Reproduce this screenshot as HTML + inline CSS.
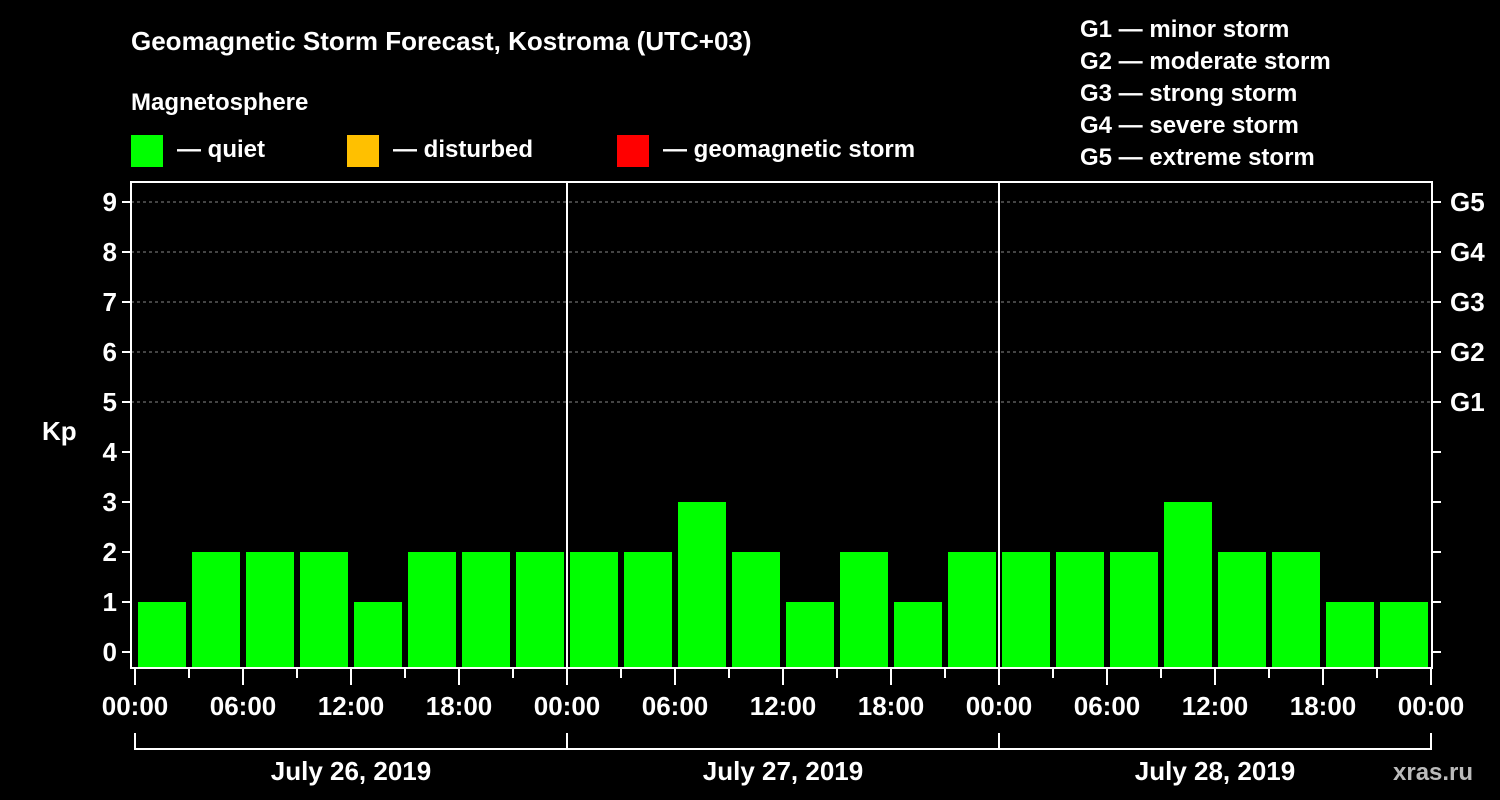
<!DOCTYPE html>
<html><head><meta charset="utf-8"><style>
body{margin:0;background:#000;width:1500px;height:800px;overflow:hidden}
svg{display:block;font-family:"Liberation Sans",Arial,sans-serif;font-weight:bold;fill:#fff}
</style></head><body>
<svg id="c" width="1500" height="800">
<text x="131" y="50" font-size="26">Geomagnetic Storm Forecast, Kostroma (UTC+03)</text>
<text x="131" y="110" font-size="24">Magnetosphere</text>
<rect x="131" y="135" width="32" height="32" fill="#00ff00"/>
<text x="177" y="157" font-size="24">— quiet</text>
<rect x="347" y="135" width="32" height="32" fill="#ffc000"/>
<text x="393" y="157" font-size="24">— disturbed</text>
<rect x="617" y="135" width="32" height="32" fill="#ff0000"/>
<text x="663" y="157" font-size="24">— geomagnetic storm</text>
<g font-size="24">
<text x="1080" y="37">G1 — minor storm</text>
<text x="1080" y="69">G2 — moderate storm</text>
<text x="1080" y="101">G3 — strong storm</text>
<text x="1080" y="133">G4 — severe storm</text>
<text x="1080" y="165">G5 — extreme storm</text>
</g>
<text x="42" y="440" font-size="26">Kp</text>
<text x="1393" y="780" font-size="24" fill="#bbb">xras.ru</text>
<g id="g"></g>
</svg>
<script>
const kpValues=[1,2,2,2,1,2,2,2, 2,2,3,2,1,2,1,2, 2,2,2,3,2,2,1,1];
const dayLabels=["July 26, 2019","July 27, 2019","July 28, 2019"];
const yTicks=[0,1,2,3,4,5,6,7,8,9];
const gLabels=["G1","G2","G3","G4","G5"];
const hourLabels=["00:00","06:00","12:00","18:00"];
const NS="http://www.w3.org/2000/svg";
const g=document.getElementById('g');
const X0=135,DAY=432,L=131,R=1432,T=182,B=668;
const x=h=>X0+h*DAY/24;
const y=v=>652-v*50;
function mk(t,a,p){const e=document.createElementNS(NS,t);for(const k in a)e.setAttribute(k,a[k]);(p||g).appendChild(e);return e;}
yTicks.forEach(v=>{
 if(v>=5){const l=mk('line',{x1:L,x2:R,y1:y(v),y2:y(v),stroke:'#888','stroke-dasharray':'3,3','stroke-width':1});
 
 }
});
kpValues.forEach((v,i)=>{
 const r=mk('rect',{x:x(i*3)+3,y:y(v),width:DAY/8-6,height:B-y(v),fill:'#00ff00'});
 
 
});
// axes frame
const f=mk('rect',{x:L,y:T,width:R-L,height:B-T,fill:'none',stroke:'#fff','stroke-width':2});


[1,2].forEach(d=>{const l=mk('line',{x1:x(d*24),x2:x(d*24),y1:T,y2:B,stroke:'#fff','stroke-width':2});
 
 });
yTicks.forEach(v=>{
 mk('line',{x1:L-9,x2:L,y1:y(v),y2:y(v),stroke:'#fff','stroke-width':2});
 mk('line',{x1:R,x2:R+9,y1:y(v),y2:y(v),stroke:'#fff','stroke-width':2});
 const t=mk('text',{x:L-14,y:y(v)+9,'font-size':26,'text-anchor':'end'});t.textContent=v;
 
 
});
gLabels.forEach((s,i)=>{const t=mk('text',{x:1450,y:y(5+i)+9,'font-size':26});t.textContent=s;
 
 });
for(let h=0;h<=72;h+=3){
 const major=h%6==0;
 mk('line',{x1:x(h),x2:x(h),y1:B,y2:major?685:678,stroke:'#fff','stroke-width':2});
 if(major){const t=mk('text',{x:x(h),y:715,'font-size':26,'text-anchor':'middle'});t.textContent=hourLabels[(h/6)%4];
 
 }
}
mk('path',{d:`M${x(0)},733V749H${x(72)}V733M${x(24)},733V749M${x(48)},733V749`,fill:'none',stroke:'#fff','stroke-width':2});
dayLabels.forEach((s,i)=>{const t=mk('text',{x:x(i*24+12),y:780,'font-size':26,'text-anchor':'middle'});t.textContent=s;
 
 });
</script>
</body></html>
